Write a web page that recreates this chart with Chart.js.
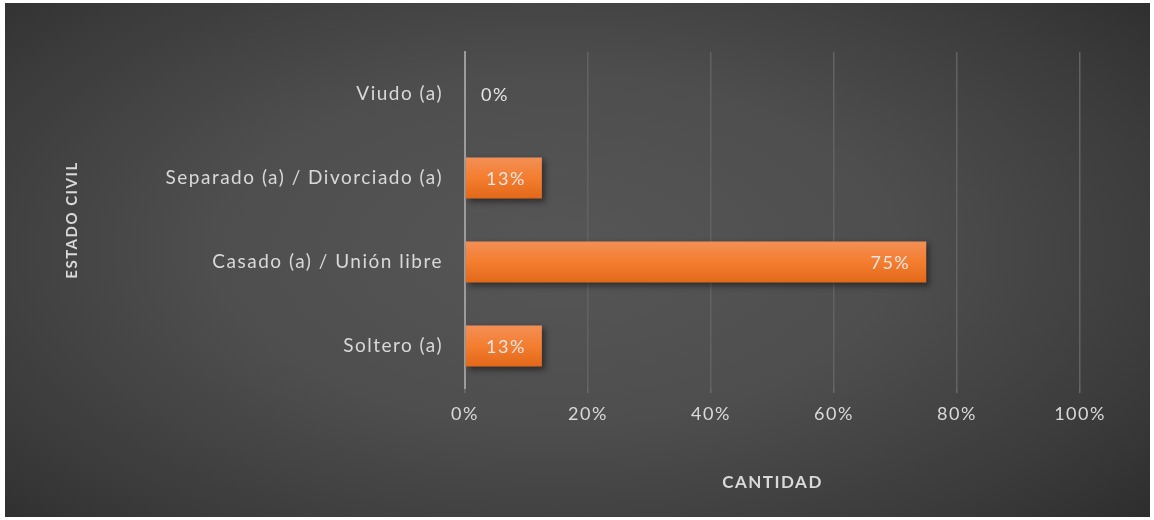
<!DOCTYPE html>
<html>
<head>
<meta charset="utf-8">
<script src="https://cdn.jsdelivr.net/npm/chart.js@4/dist/chart.umd.min.js"></script>
<style>
  html, body { margin: 0; padding: 0; background: #fff; }
  #box {
    position: absolute; left: 5px; top: 3px; width: 1145px; height: 514px;
    background: radial-gradient(ellipse 75% 85% at 48% 48%, #565656 0%, #4e4e4e 40%, #3a3a3a 75%, #282828 100%);
  }
  canvas { display: block; }
</style>
</head>
<body>
<div id="box"><canvas id="myChart" width="1145" height="514"></canvas></div>
<script>
var categories = ['Viudo (a)', 'Separado (a) / Divorciado (a)', 'Casado (a) / Unión libre', 'Soltero (a)'];
var percentages = [0, 12.5, 75, 12.5];
var tickValues = [0, 20, 40, 60, 80, 100];

var textColor = '#d9d9d9';
var fontFamily = 'Lato, "Open Sans", sans-serif';

// the original text is set wider than Lato, so spread the letters a bit
var wideText = {
    id: 'wideText',
    beforeUpdate: function(chart) { chart.ctx.letterSpacing = '1.5px'; },
    beforeDraw: function(chart) { chart.ctx.letterSpacing = '1.5px'; }
};

var barShadow = {
    id: 'barShadow',
    beforeDatasetsDraw: function(chart) {
        var ctx = chart.ctx;
        ctx.save();
        ctx.shadowColor = 'rgba(0,0,0,0.45)';
        ctx.shadowBlur = 6;
        ctx.shadowOffsetX = 3;
        ctx.shadowOffsetY = 3;
    },
    afterDatasetsDraw: function(chart) {
        chart.ctx.restore();
    }
};

// value labels at the inside end of each bar
var valueLabels = {
    id: 'valueLabels',
    afterDatasetsDraw: function(chart) {
        var ctx = chart.ctx;
        var meta = chart.getDatasetMeta(0);
        ctx.save();
        ctx.font = '18px ' + fontFamily;
        ctx.fillStyle = '#e6e6e6';
        ctx.textBaseline = 'middle';
        meta.data.forEach(function(bar, i) {
            var txt = Math.round(percentages[i]) + '%';
            var w = ctx.measureText(txt).width;
            var x = bar.x - 16 - w;
            if (x < bar.base + 16) x = bar.base + 16;
            ctx.textAlign = 'left';
            ctx.fillText(txt, x, bar.y + 1);
        });
        ctx.restore();
    }
};

var canvas = document.getElementById('myChart');
var chart = new Chart(canvas, {
    type: 'bar',
    data: {
        labels: categories,
        datasets: [{
            label: 'Cantidad',
            data: percentages,
            backgroundColor: function(c) {
                var ch = c.chart;
                if (!ch.chartArea) return '#ed7d31';
                var y = ch.scales.y.getPixelForValue(c.dataIndex);
                var g = ch.ctx.createLinearGradient(0, y - 20, 0, y + 20);
                g.addColorStop(0, '#f38f55');
                g.addColorStop(0.5, '#f47d2f');
                g.addColorStop(1, '#e3691a');
                return g;
            },
            borderWidth: 0,
            categoryPercentage: 1,
            barPercentage: 0.49
        }]
    },
    options: {
        indexAxis: 'y',
        responsive: false,
        animation: false,
        layout: { padding: { left: 58, right: 70, top: 49, bottom: 24 } },
        plugins: {
            legend: { display: false },
            tooltip: { enabled: false }
        },
        scales: {
            x: {
                min: 0,
                max: 100,
                afterBuildTicks: function(scale) {
                    scale.ticks = tickValues.map(function(v) { return { value: v }; });
                },
                afterFit: function(scale) { scale.height = 105; },
                ticks: {
                    color: textColor,
                    font: { family: fontFamily, size: 18 },
                    padding: 10,
                    callback: function(v) { return v + '%'; }
                },
                grid: { color: '#626262', lineWidth: 1.5, tickLength: 5, tickColor: '#6a6a6a' },
                border: { display: false },
                title: {
                    display: true,
                    text: 'CANTIDAD',
                    color: textColor,
                    font: { family: fontFamily, size: 17, weight: 'bold' },
                    padding: 0
                }
            },
            y: {
                afterFit: function(scale) { scale.width = 402; },
                ticks: {
                    color: textColor,
                    font: { family: fontFamily, size: 19 },
                    padding: 22
                },
                grid: { display: false, drawTicks: false },
                border: { display: true, color: '#9c9c9c', width: 2 },
                title: {
                    display: true,
                    text: 'ESTADO CIVIL',
                    color: textColor,
                    font: { family: fontFamily, size: 15, weight: 'bold' },
                    padding: 0
                }
            }
        }
    },
    plugins: [wideText, barShadow, valueLabels]
});
</script>
</body>
</html>
